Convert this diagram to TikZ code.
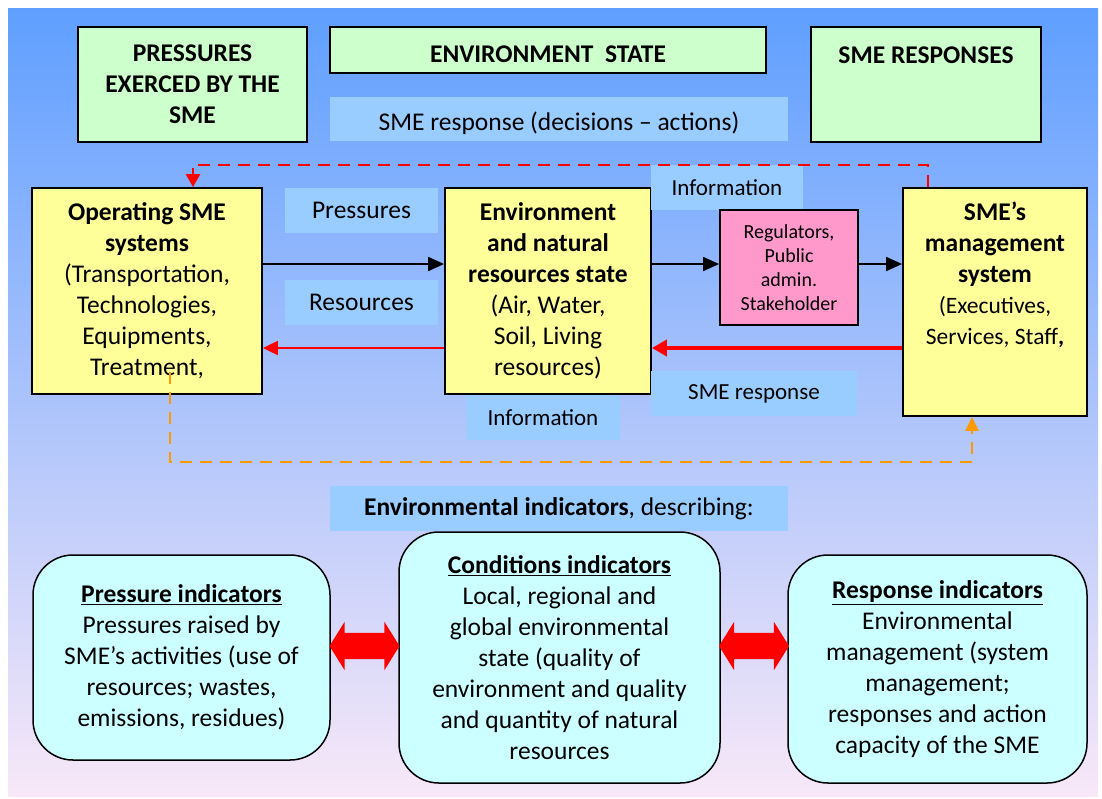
\documentclass[tikz,border=0pt]{standalone}
\usepackage{fontspec}
\setmainfont{Carlito}
\usetikzlibrary{arrows.meta,shapes.arrows,calc}
\definecolor{boxgreen}{RGB}{204,255,204}
\definecolor{boxyellow}{RGB}{255,255,153}
\definecolor{boxpink}{RGB}{255,153,204}
\definecolor{labblue}{RGB}{153,204,255}
\definecolor{boxcyan}{RGB}{204,255,255}
\definecolor{bgtop}{RGB}{95,159,255}
\definecolor{bgmid}{RGB}{176,204,240}
\definecolor{bgbot}{RGB}{248,232,248}
\definecolor{dashorange}{RGB}{255,153,0}
\newcommand{\bigfont}{\fontsize{25.5}{31}\selectfont}
\newcommand{\midfont}{\fontsize{23.5}{27}\selectfont}
\newcommand{\labfont}{\fontsize{23}{27}\selectfont}
\newcommand{\smallfont}{\fontsize{20}{24}\selectfont}
\tikzset{
  hdbox/.style={draw=black, line width=1.8pt, fill=boxgreen, inner sep=0pt, font=\bigfont\bfseries, align=center},
  labbox/.style={fill=labblue, inner sep=0pt, font=\bigfont},
  ybox/.style={draw=black, line width=1.8pt, fill=boxyellow, inner sep=0pt, font=\bigfont, align=center},
  pbox/.style={draw=black, line width=1.8pt, fill=boxpink, inner sep=0pt, font=\smallfont, align=center},
  indbox/.style={draw=black, line width=1.5pt, fill=boxcyan, rounded corners=40pt, inner sep=0pt, font=\bigfont, align=center},
  dblarrow/.style={double arrow, fill=red, inner xsep=0pt, inner ysep=13pt, minimum height=70pt, double arrow head extend=11pt, double arrow tip angle=116},
  blk/.style={line width=1.8pt, -{Triangle[length=16pt,width=14pt]}},
  redthin/.style={red, line width=1.8pt, -{Triangle[length=15pt,width=14pt]}},
  redthick/.style={red, line width=4pt, -{Triangle[length=15pt,width=16pt]}},
  reddash/.style={red, line width=2.5pt, dash pattern=on 12pt off 8pt, -{Triangle[length=13pt,width=14pt]}},
  orangedash/.style={dashorange, line width=2.5pt, dash pattern=on 12pt off 8pt, -{Triangle[length=14pt,width=13pt]}}
}

\begin{document}
\begin{tikzpicture}[x=1pt, y=-1pt]
    \useasboundingbox (0,0) rectangle (1102,798);
    % background
    \shade[top color=bgtop, middle color=bgmid, bottom color=bgbot] (8,8) rectangle (1098,796);
    % headings
    \node[hdbox, minimum width=229, minimum height=115] (pressh) at (192.5,84.5) {PRESSURES\\EXERCED BY THE\\SME};
    \node[hdbox, minimum width=436, minimum height=46] (stateh) at (548,50) {};
    \node[font=\bigfont\bfseries] (statetxt) at (stateh.north |- 0,54) {ENVIRONMENT\ \ STATE};
    \node[hdbox, minimum width=230, minimum height=115] (resph) at (926,84.5) {};
    \node[font=\bigfont\bfseries] (resptxt) at (resph.north |- 0,55) {SME RESPONSES};
    \node[labbox, minimum width=458, minimum height=44] (decis) at (559,119) {};
    \node[font=\bigfont] (decistxt) at (decis.north |- 0,123) {SME response (decisions -- actions)};
    % main row
    \node[ybox, minimum width=230, minimum height=206] (opsys) at (147,291)
        {\textbf{Operating SME}\\\textbf{systems}\\(Transportation,\\Technologies,\\Equipments,\\Treatment,};
    \node[labbox, minimum width=153, minimum height=45] (pressl) at (361.5,210.5) {Pressures};
    \node[labbox, minimum width=153, minimum height=45] (resl) at (361.5,302.5) {Resources};
    \node[ybox, minimum width=206, minimum height=206] (envbox) at (548,291)
        {\textbf{Environment}\\\textbf{and natural}\\\textbf{resources state}\\(Air, Water,\\Soil, Living\\resources)};
    \node[labbox, minimum width=152, minimum height=45, font=\labfont] (info1) at (727,187.5) {Information};
    \node[pbox, minimum width=138, minimum height=115] (regul) at (789,267.5) {Regulators,\\Public\\admin.\\Stakeholder};
    \node[ybox, minimum width=184, minimum height=228] (mgmt) at (995,302) {};
    \node[anchor=north, inner sep=0pt, align=center, font=\bigfont] (mgmttxt) at (mgmt.north |- 0,202)
        {\textbf{SME's}\\\textbf{management}\\\textbf{system}\\{\midfont(Executives,}\\{\midfont Services, Staff\textbf{,}}};
    \node[labbox, minimum width=206, minimum height=45, font=\labfont] (respl) at (754,393.5) {SME response};
    \node[labbox, minimum width=154, minimum height=45, font=\labfont] (info2) at (543,417.5) {Information};
    % indicators
    \node[labbox, minimum width=458, minimum height=45] (indic) at (559,508.5) {\textbf{Environmental indicators}, describing:};
    \node[indbox, minimum width=297, minimum height=205] (pind) at (181.5,657.5)
        {\textbf{\underline{Pressure indicators}}\\Pressures raised by\\SME's activities (use of\\resources; wastes,\\emissions, residues)};
    \node[indbox, minimum width=321, minimum height=251] (cind) at (559.5,657.5)
        {\textbf{\underline{Conditions indicators}}\\Local, regional and\\global environmental\\state (quality of\\environment and quality\\and quantity of natural\\resources};
    \node[indbox, minimum width=299, minimum height=228] (rind) at (937.5,669)
        {\textbf{\underline{Response indicators}}\\Environmental\\management (system\\management;\\responses and action\\capacity of the SME};
    \node[dblarrow] (darrl) at (364.5,646) {};
    \node[dblarrow] (darrr) at (754,646) {};
    % connectors
    \coordinate (rowp) at (0,264);
    \coordinate (rowr) at (0,348);
    \draw[blk] (opsys.east |- rowp) -- (envbox.west |- rowp);
    \draw[blk] (envbox.east |- rowp) -- (regul.west |- rowp);
    \draw[blk] (regul.east |- rowp) -- (mgmt.west |- rowp);
    \draw[redthick] (mgmt.west |- rowr) -- (envbox.east |- rowr);
    \draw[redthin] (envbox.west |- rowr) -- (opsys.east |- rowr);
    % dashed loops
    \coordinate (dr) at (928,165);
    \coordinate (dl) at (193,165);
    \draw[reddash] (mgmt.north -| dr) -- (dr) -- (dl) -- (opsys.north -| dl);
    \coordinate (ostart) at (170,372);
    \coordinate (ol) at (170,462);
    \coordinate (or) at (972,462);
    \draw[orangedash] (ostart) -- (ol) -- (or) -- (mgmt.south -| or);
\end{tikzpicture}
\end{document}
